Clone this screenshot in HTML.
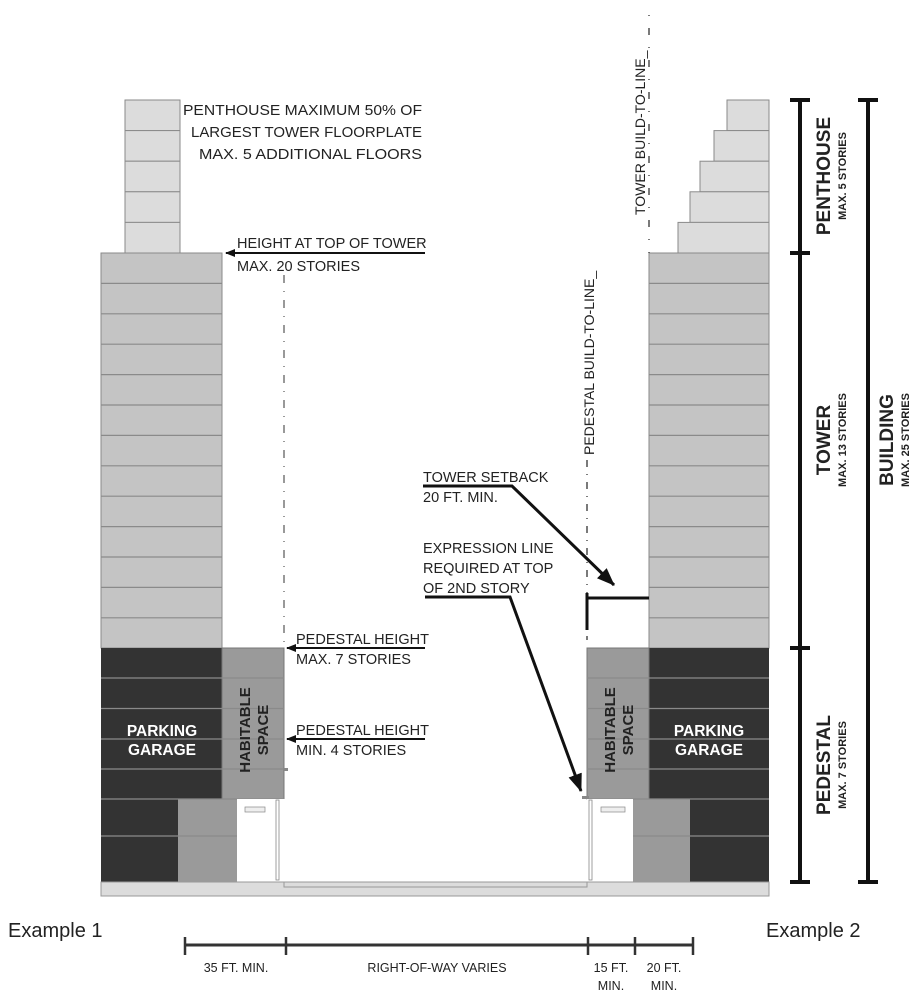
<!DOCTYPE html>
<html><head><meta charset="utf-8"><style>
html,body{margin:0;padding:0;background:#fff}
svg{display:block}
text{font-family:"Liberation Sans",sans-serif;fill:#222}
</style></head><body>
<svg width="918" height="1000" viewBox="0 0 918 1000" xmlns="http://www.w3.org/2000/svg">
<defs>
<marker id="ah" markerWidth="10" markerHeight="8" refX="9" refY="4" orient="auto" markerUnits="userSpaceOnUse"><path d="M0,0 L10,4 L0,8 Z" fill="#111"/></marker>
<marker id="ab" markerWidth="18" markerHeight="14" refX="17" refY="7" orient="auto" markerUnits="userSpaceOnUse"><path d="M0,0 L18,7 L0,14 Z" fill="#111"/></marker>
</defs>

<g fill="#dcdcdc" stroke="#8a8a8a" stroke-width="1">
<rect x="125" y="100" width="55" height="30.6"/>
<rect x="125" y="130.6" width="55" height="30.6"/>
<rect x="125" y="161.2" width="55" height="30.6"/>
<rect x="125" y="191.8" width="55" height="30.6"/>
<rect x="125" y="222.4" width="55" height="30.6"/>
</g>
<g fill="#dcdcdc" stroke="#8a8a8a" stroke-width="1">
<rect x="727" y="100" width="42" height="30.6"/>
<rect x="714" y="130.6" width="55" height="30.6"/>
<rect x="700" y="161.2" width="69" height="30.6"/>
<rect x="690" y="191.8" width="79" height="30.6"/>
<rect x="678" y="222.4" width="91" height="30.6"/>
</g>
<g fill="#c4c4c4" stroke="#8a8a8a" stroke-width="1">
<rect x="101" y="253" width="121" height="395"/>
<rect x="649" y="253" width="120" height="395"/>
</g>
<g stroke="#8a8a8a" stroke-width="1.2">
<path d="M101 283.4H222M101 313.8H222M101 344.2H222M101 374.6H222M101 405H222M101 435.4H222M101 465.8H222M101 496.2H222M101 526.6H222M101 557H222M101 587.4H222M101 617.8H222"/>
<path d="M649 283.4H769M649 313.8H769M649 344.2H769M649 374.6H769M649 405H769M649 435.4H769M649 465.8H769M649 496.2H769M649 526.6H769M649 557H769M649 587.4H769M649 617.8H769"/>
</g>

<rect x="101" y="648" width="121" height="151" fill="#333"/>
<rect x="222" y="648" width="62" height="151" fill="#9a9a9a" stroke="#777"/>
<rect x="101" y="799" width="77" height="83" fill="#333"/>
<rect x="178" y="799" width="59" height="83" fill="#9a9a9a"/>
<g stroke="#8a8a8a" stroke-width="1.2">
<path d="M101 678H284M101 708.5H284M101 739H284M101 769H284M101 799H284M101 836H237"/>
</g>
<rect x="237" y="799" width="48" height="83" fill="#fff"/>
<rect x="276" y="800" width="3" height="80" fill="#fff" stroke="#888" stroke-width="0.8"/>
<rect x="283" y="768" width="5" height="3" fill="#888"/>
<rect x="245" y="807" width="20" height="5" fill="#eee" stroke="#888" stroke-width="0.7"/>

<rect x="649" y="648" width="120" height="151" fill="#333"/>
<rect x="587" y="648" width="62" height="151" fill="#9a9a9a" stroke="#777"/>
<rect x="690" y="799" width="79" height="83" fill="#333"/>
<rect x="633" y="799" width="57" height="83" fill="#9a9a9a"/>
<g stroke="#8a8a8a" stroke-width="1.2">
<path d="M587 678H769M587 708.5H769M587 739H769M587 769H769M587 799H769M633 836H769"/>
</g>
<rect x="587" y="799" width="46" height="83" fill="#fff"/>
<rect x="589" y="800" width="3" height="80" fill="#fff" stroke="#888" stroke-width="0.8"/>
<rect x="582" y="796" width="7" height="3" fill="#888"/>
<rect x="601" y="807" width="24" height="5" fill="#eee" stroke="#888" stroke-width="0.7"/>

<rect x="101" y="882" width="668" height="14" fill="#dcdcdc" stroke="#999"/>
<path d="M284 882V887H587V882" fill="none" stroke="#999" stroke-width="1"/>

<g font-weight="bold" font-size="15.5" text-anchor="middle">
<text x="162" y="736" style="fill:#fff">PARKING</text>
<text x="162" y="755" style="fill:#fff">GARAGE</text>
<text x="709" y="736" style="fill:#fff">PARKING</text>
<text x="709" y="755" style="fill:#fff">GARAGE</text>
</g>
<g font-weight="bold" font-size="15" text-anchor="middle">
<text transform="translate(250,730) rotate(-90)">HABITABLE</text>
<text transform="translate(268,730) rotate(-90)">SPACE</text>
<text transform="translate(615,730) rotate(-90)">HABITABLE</text>
<text transform="translate(633,730) rotate(-90)">SPACE</text>
</g>

<path d="M284 275V648" stroke="#333" stroke-width="1" stroke-dasharray="8,8,1,8"/>
<path d="M587 460V640" stroke="#333" stroke-width="1.3" stroke-dasharray="7,7,1,7"/>
<path d="M649 15V253" stroke="#333" stroke-width="1.3" stroke-dasharray="1,12,7,12"/>
<text transform="translate(594,455) rotate(-90)" font-size="14">PEDESTAL BUILD-TO-LINE_</text>
<text transform="translate(645,215) rotate(-90)" font-size="14">TOWER BUILD-TO-LINE_</text>

<g font-size="14.5">
<text x="183" y="115" textLength="239" lengthAdjust="spacingAndGlyphs">PENTHOUSE MAXIMUM 50% OF</text>
<text x="191" y="137" textLength="231" lengthAdjust="spacingAndGlyphs">LARGEST TOWER FLOORPLATE</text>
<text x="199" y="159" textLength="223" lengthAdjust="spacingAndGlyphs">MAX. 5 ADDITIONAL FLOORS</text>
<text x="237" y="248">HEIGHT AT TOP OF TOWER</text>
<text x="237" y="271">MAX. 20 STORIES</text>
<text x="296" y="644">PEDESTAL HEIGHT</text>
<text x="296" y="664">MAX. 7 STORIES</text>
<text x="296" y="735">PEDESTAL HEIGHT</text>
<text x="296" y="755">MIN. 4 STORIES</text>
<text x="423" y="482">TOWER SETBACK</text>
<text x="423" y="502">20 FT. MIN.</text>
<text x="423" y="553">EXPRESSION LINE</text>
<text x="423" y="573">REQUIRED AT TOP</text>
<text x="423" y="593">OF 2ND STORY</text>
</g>
<g stroke="#111" stroke-width="2" fill="none">
<path d="M425 253H226" marker-end="url(#ah)"/>
<path d="M425 648H287" marker-end="url(#ah)"/>
<path d="M425 739H287" marker-end="url(#ah)"/>
<path d="M423 486H512L614 585" stroke-width="3" marker-end="url(#ab)"/>
<path d="M425 597H510L581 791" stroke-width="3" marker-end="url(#ab)"/>
<path d="M587 593V630M587 598H649" stroke-width="3"/>
</g>

<g stroke="#111" stroke-width="4" fill="none">
<path d="M800 100V882M790 100H810M790 253H810M790 648H810M790 882H810"/>
<path d="M868 100V882M858 100H878M858 882H878"/>
</g>
<g text-anchor="middle">
<text transform="translate(830,176) rotate(-90)" font-size="19" font-weight="bold">PENTHOUSE</text>
<text transform="translate(846,176) rotate(-90)" font-size="11" font-weight="bold">MAX. 5 STORIES</text>
<text transform="translate(830,440) rotate(-90)" font-size="19" font-weight="bold">TOWER</text>
<text transform="translate(846,440) rotate(-90)" font-size="11" font-weight="bold">MAX. 13 STORIES</text>
<text transform="translate(830,765) rotate(-90)" font-size="19" font-weight="bold">PEDESTAL</text>
<text transform="translate(846,765) rotate(-90)" font-size="11" font-weight="bold">MAX. 7 STORIES</text>
<text transform="translate(893,440) rotate(-90)" font-size="19" font-weight="bold">BUILDING</text>
<text transform="translate(909,440) rotate(-90)" font-size="11" font-weight="bold">MAX. 25 STORIES</text>
</g>

<text x="8" y="937" font-size="20" fill="#333">Example 1</text>
<text x="766" y="937" font-size="20" fill="#333">Example 2</text>
<g stroke="#333" stroke-width="3">
<path d="M185 945H693"/>
<path d="M185 937V955M286 937V955M588 937V955M635 937V955M693 937V955" stroke-width="2.5"/>
</g>
<g font-size="12.5" text-anchor="middle">
<text x="236" y="972">35 FT. MIN.</text>
<text x="437" y="972">RIGHT-OF-WAY VARIES</text>
<text x="611" y="972">15 FT.</text>
<text x="611" y="990">MIN.</text>
<text x="664" y="972">20 FT.</text>
<text x="664" y="990">MIN.</text>
</g>
</svg>
</body></html>
